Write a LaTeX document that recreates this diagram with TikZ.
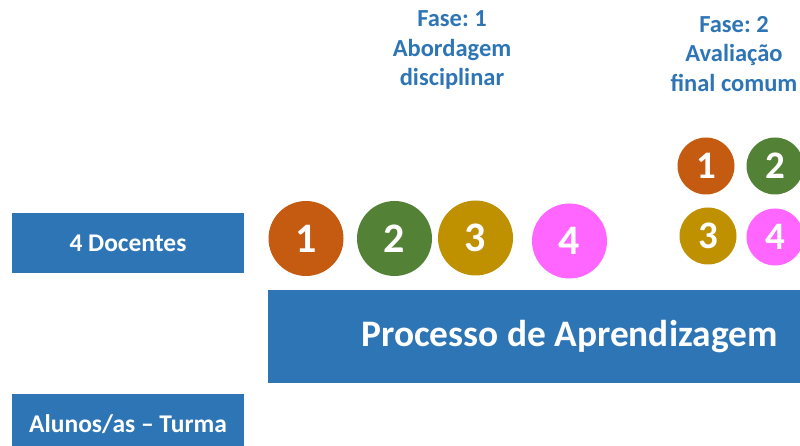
\documentclass[tikz,border=0pt]{standalone}
\usepackage{fontspec}
\setmainfont{Carlito}
\frenchspacing
\definecolor{pblue}{HTML}{2E75B6}
\definecolor{corange}{HTML}{C55A11}
\definecolor{cgreen}{HTML}{538135}
\definecolor{cgold}{HTML}{BF9000}
\definecolor{cpink}{HTML}{FF66FF}
\begin{document}
\begin{tikzpicture}[x=1pt,y=-1pt,
  boxtext/.style={text=white,font=\bfseries\fontsize{25.5}{30}\selectfont},
  bigcirc/.style={circle,draw=none,minimum size=75pt,inner sep=0pt,text=white,font=\bfseries\fontsize{42}{42}\selectfont},
  smallcirc/.style={circle,draw=none,minimum size=57pt,inner sep=0pt,text=white,font=\bfseries\fontsize{39}{39}\selectfont},
  phase/.style={align=center,text=pblue,font=\bfseries\fontsize{24.5}{29.5}\selectfont,inner sep=0pt}]
\useasboundingbox (0,0) rectangle (800,446);
\fill[pblue] (12,213) rectangle (244,273);
\node[boxtext] (doc) at (128,243) {4 Docentes};
\fill[pblue] (12,394) rectangle (244,446);
\node[boxtext] (alu) at (128,424) {Alunos/as -- Turma};
\fill[pblue] (268,290) rectangle (800,383);
\node[text=white,font=\bfseries\fontsize{37.4}{40}\selectfont] (proc) at (569.5,337) {Processo de Aprendizagem};
\node[bigcirc,fill=corange] (b1) at (306,238.5) {1};
\node[bigcirc,fill=cgreen] (b2) at (394.5,238.5) {2};
\node[bigcirc,fill=cgold] (b3) at (475.5,238) {3};
\node[bigcirc,fill=cpink] (b4) at (569.5,241) {4};
\node[smallcirc,fill=corange] (s1) at (706,166) {1};
\node[smallcirc,fill=cgreen] (s2) at (775,166) {2};
\node[smallcirc,fill=cgold] (s3) at (708,236) {3};
\node[smallcirc,fill=cpink] (s4) at (775,237) {4};
\node[phase] (f1) at (452,50) {Fase: 1\\Abordagem\\disciplinar};
\node[phase] (f2) at (734,54) {Fase: 2\\Avaliação\\final comum};
\end{tikzpicture}
\end{document}
